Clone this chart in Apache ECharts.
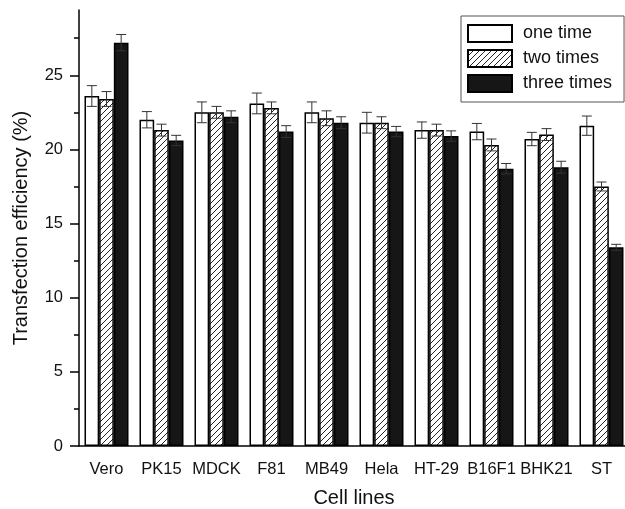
<!DOCTYPE html>
<html>
<head>
<meta charset="utf-8">
<script src="https://cdn.jsdelivr.net/npm/echarts@6/dist/echarts.min.js"></script>
<style>
  html, body { margin: 0; padding: 0; background: #fff; }
  #chart { width: 625px; height: 509px; }
</style>
</head>
<body>
<div id="chart"></div>
<script>
const categories = ['Vero', 'PK15', 'MDCK', 'F81', 'MB49', 'Hela', 'HT-29', 'B16F1', 'BHK21', 'ST'];
const oneTime = [23.6, 22.0, 22.5, 23.1, 22.5, 21.8, 21.3, 21.2, 20.7, 21.6];
const oneTimeErr = [0.7, 0.55, 0.7, 0.7, 0.7, 0.7, 0.55, 0.55, 0.45, 0.65];
const twoTimes = [23.4, 21.3, 22.5, 22.8, 22.1, 21.8, 21.3, 20.3, 21.0, 17.5];
const twoTimesErr = [0.5, 0.4, 0.4, 0.4, 0.5, 0.4, 0.4, 0.4, 0.4, 0.3];
const threeTimes = [27.2, 20.6, 22.2, 21.2, 21.8, 21.2, 20.9, 18.7, 18.8, 13.4];
const threeTimesErr = [0.55, 0.35, 0.4, 0.4, 0.4, 0.35, 0.35, 0.35, 0.4, 0.2];
const yMajor = [0, 5, 10, 15, 20, 25];
const yMinor = [2.5, 7.5, 12.5, 17.5, 22.5, 27.5];

const FONT = "'Liberation Sans', Arial, Helvetica, sans-serif";

// diagonal hatch fill for the "two times" bars
function hatch() {
  const s = 6;
  const c = document.createElement('canvas');
  c.width = s; c.height = s;
  const ctx = c.getContext('2d');
  ctx.fillStyle = '#fff';
  ctx.fillRect(0, 0, s, s);
  ctx.strokeStyle = '#222';
  ctx.lineWidth = 1;
  ctx.beginPath();
  ctx.moveTo(0, s); ctx.lineTo(s, 0);
  ctx.moveTo(-1, 1); ctx.lineTo(1, -1);
  ctx.moveTo(s - 1, s + 1); ctx.lineTo(s + 1, s - 1);
  ctx.stroke();
  return c;
}

function errData(vals, errs) {
  return vals.map((v, i) => [i, v, errs[i]]);
}

function errorBars(k) {
  return function (params, api) {
    const i = api.value(0), v = api.value(1), e = api.value(2);
    const c = api.coord([i, v]);
    const bw = api.size([1, 0])[0] * 0.8 / 3;
    const cx = c[0] + (k - 1) * bw;
    const top = api.coord([i, v + e])[1];
    const bot = api.coord([i, v - e])[1];
    const hw = 5;
    const style = { stroke: '#333', lineWidth: 1 };
    return {
      type: 'group',
      children: [
        { type: 'line', shape: { x1: cx, y1: top, x2: cx, y2: bot }, style },
        { type: 'line', shape: { x1: cx - hw, y1: top, x2: cx + hw, y2: top }, style },
        { type: 'line', shape: { x1: cx - hw, y1: bot, x2: cx + hw, y2: bot }, style }
      ]
    };
  };
}

const chart = echarts.init(document.getElementById('chart'));

const barBase = {
  type: 'bar',
  xAxisIndex: 0,
  yAxisIndex: 0,
  barGap: '0%',
  barCategoryGap: '20%'
};

chart.setOption({
  animation: false,
  textStyle: { fontFamily: FONT },
  grid: { left: 79, right: -4, top: 10, bottom: 63, outerBoundsMode: 'none', containLabel: false },
  legend: {
    left: 461,
    top: 16,
    orient: 'vertical',
    icon: 'rect',
    itemWidth: 44,
    itemHeight: 17,
    itemGap: 6,
    padding: [8, 12, 9, 6],
    borderColor: '#555',
    borderWidth: 1,
    textStyle: { fontSize: 18, color: '#111', fontFamily: FONT, padding: [0, 0, 0, 6] },
    data: ['one time', 'two times', 'three times']
  },
  xAxis: [
    {
      type: 'category',
      data: categories,
      name: 'Cell lines',
      nameLocation: 'middle',
      nameGap: 42,
      nameTextStyle: { fontSize: 20, color: '#111', fontFamily: FONT },
      axisLine: { lineStyle: { color: '#000', width: 1.5 } },
      axisTick: { alignWithLabel: true, length: 8, lineStyle: { color: '#000', width: 1.5 } },
      axisLabel: { fontSize: 16.5, color: '#111', margin: 15, interval: 0, fontFamily: FONT }
    },
    {
      type: 'category',
      data: categories,
      position: 'bottom',
      axisLine: { show: false },
      axisTick: { length: 5, lineStyle: { color: '#000', width: 1.5 } },
      axisLabel: { show: false }
    }
  ],
  yAxis: [
    {
      type: 'value',
      min: 0,
      max: 29.4,
      interval: 5,
      name: 'Transfection efficiency (%)',
      nameLocation: 'middle',
      nameGap: 48,
      nameTextStyle: { fontSize: 20, color: '#111', fontFamily: FONT },
      axisLine: { show: true, lineStyle: { color: '#000', width: 1.5 } },
      axisTick: { show: true, length: 9, customValues: yMajor, lineStyle: { color: '#000', width: 1.5 } },
      axisLabel: { fontSize: 16.5, color: '#111', margin: 16, customValues: yMajor, fontFamily: FONT },
      splitLine: { show: false }
    },
    {
      type: 'value',
      min: 0,
      max: 29.4,
      position: 'left',
      axisLine: { show: false },
      axisTick: { show: true, length: 5, customValues: yMinor, lineStyle: { color: '#000', width: 1.5 } },
      axisLabel: { show: false },
      splitLine: { show: false }
    }
  ],
  series: [
    Object.assign({}, barBase, {
      name: 'one time',
      data: oneTime,
      itemStyle: { color: '#fff', borderColor: '#000', borderWidth: 1.5 }
    }),
    Object.assign({}, barBase, {
      name: 'two times',
      data: twoTimes,
      itemStyle: { color: { image: hatch(), repeat: 'repeat' }, borderColor: '#000', borderWidth: 1.5 }
    }),
    Object.assign({}, barBase, {
      name: 'three times',
      data: threeTimes,
      itemStyle: { color: '#161616', borderColor: '#000', borderWidth: 1.5 }
    }),
    { type: 'custom', renderItem: errorBars(0), data: errData(oneTime, oneTimeErr), encode: { x: 0, y: 1 }, z: 5 },
    { type: 'custom', renderItem: errorBars(1), data: errData(twoTimes, twoTimesErr), encode: { x: 0, y: 1 }, z: 5 },
    { type: 'custom', renderItem: errorBars(2), data: errData(threeTimes, threeTimesErr), encode: { x: 0, y: 1 }, z: 5 }
  ]
});
</script>
</body>
</html>
